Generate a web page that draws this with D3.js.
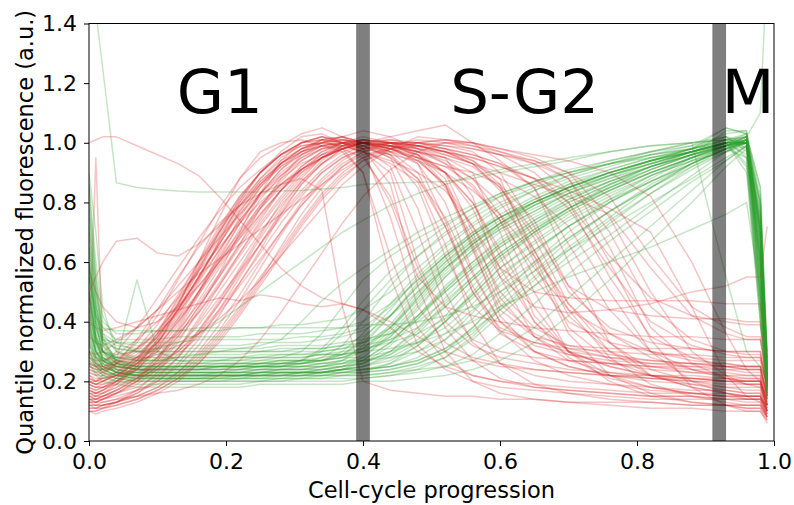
<!DOCTYPE html>
<html>
<head>
<meta charset="utf-8">
<script src="https://cdn.jsdelivr.net/npm/d3@7"></script>
<style>
  body { margin: 0; background: #fff; }
  svg text { font-family: "DejaVu Sans", sans-serif; }
</style>
</head>
<body>
<svg id="chart" width="794" height="505"></svg>
<script>
// Sampling positions along the cell cycle (shared by every trace)
const progression = [0, .01, .02, .04, .07, .10, .13, .16, .19, .22, .25, .28, .31, .34, .37,
                     .40, .44, .48, .52, .56, .60, .65, .70, .76, .82, .88, .93, .96, .98, .99];

// Red reporter (G1 marker), one row per cell
const redTraces = [
  [.18,.17,.18,.2,.24,.32,.45,.6,.75,.88,.97,1.0,1.01,.99,.97,.9,.62,.38,.27,.22,.2,.18,.17,.16,.15,.15,.14,.14,.14,.12],
  [.14,.14,.15,.17,.2,.25,.33,.44,.56,.7,.83,.94,1.0,1.02,1.0,.99,.95,.78,.5,.33,.26,.22,.2,.19,.18,.17,.17,.16,.16,.1],
  [.22,.2,.21,.22,.24,.28,.35,.45,.55,.66,.78,.88,.96,1.0,1.01,1.0,.98,.96,.88,.65,.42,.3,.25,.22,.21,.2,.2,.19,.19,.12],
  [.12,.12,.13,.14,.17,.2,.25,.32,.42,.53,.64,.76,.86,.93,.98,1.0,.99,.97,.95,.9,.7,.42,.3,.25,.22,.21,.2,.2,.2,.14],
  [.27,.25,.24,.24,.27,.33,.42,.54,.67,.8,.9,.97,1.02,1.03,1.0,.98,.92,.7,.45,.34,.3,.28,.27,.26,.25,.25,.24,.24,.24,.15],
  [.16,.15,.16,.18,.22,.28,.36,.47,.58,.68,.78,.86,.92,.97,1.0,1.01,1.0,.98,.97,.94,.88,.62,.38,.27,.22,.19,.17,.16,.16,.1],
  [.2,.19,.2,.23,.28,.36,.46,.57,.68,.79,.88,.95,.99,1.0,1.02,1.0,.97,.93,.8,.57,.4,.32,.29,.27,.26,.26,.25,.25,.25,.2],
  [.1,.1,.11,.12,.14,.17,.21,.27,.35,.44,.54,.65,.76,.85,.92,.97,1.0,1.0,.98,.96,.93,.85,.6,.33,.22,.18,.16,.15,.15,.09],
  [.24,.23,.24,.27,.33,.42,.54,.66,.78,.88,.95,.99,1.03,1.05,1.02,.98,.75,.45,.33,.28,.26,.24,.23,.22,.22,.21,.21,.2,.2,.14],
  [.3,.28,.27,.28,.31,.36,.43,.52,.61,.7,.79,.86,.91,.95,.98,1.0,1.0,.99,.97,.95,.92,.88,.8,.55,.35,.28,.25,.24,.24,.16],
  [.15,.14,.14,.15,.17,.19,.23,.29,.37,.47,.58,.69,.79,.87,.93,.97,.99,.98,.95,.82,.55,.35,.27,.23,.21,.2,.19,.19,.19,.11],
  [.19,.18,.19,.21,.25,.31,.4,.5,.6,.71,.81,.89,.95,.99,1.01,1.0,.99,.93,.74,.5,.38,.33,.31,.3,.29,.29,.28,.28,.28,.2],
  [.13,.12,.12,.13,.15,.18,.22,.28,.36,.45,.55,.64,.74,.83,.9,.95,.99,1.01,1.0,.98,.96,.93,.88,.65,.38,.26,.21,.19,.19,.12],
  [.26,.25,.26,.3,.38,.48,.58,.68,.77,.85,.91,.96,.99,1.0,.99,.97,.9,.6,.4,.32,.28,.26,.24,.23,.22,.22,.21,.21,.21,.13],
  [.22,.21,.21,.22,.23,.26,.3,.36,.44,.53,.63,.73,.82,.9,.95,.98,1.0,1.0,.99,.97,.9,.72,.5,.38,.33,.31,.3,.3,.3,.18],
  [.35,.33,.32,.34,.38,.44,.52,.6,.68,.76,.83,.89,.94,.98,1.0,1.01,1.0,.98,.96,.93,.9,.86,.82,.76,.58,.42,.36,.34,.34,.2],
  [.17,.16,.17,.19,.24,.31,.41,.53,.64,.74,.82,.88,.93,.96,.98,.99,.96,.85,.62,.45,.37,.33,.3,.28,.27,.26,.25,.25,.25,.15],
  [.11,.11,.12,.13,.16,.2,.26,.34,.44,.55,.66,.77,.86,.93,.98,1.0,1.01,.99,.96,.93,.88,.82,.72,.5,.3,.2,.16,.14,.14,.08],
  [.28,.27,.27,.29,.34,.4,.48,.57,.65,.73,.8,.86,.91,.95,.98,1.0,.99,.97,.95,.92,.85,.7,.52,.44,.42,.41,.41,.4,.4,.25],
  [.2,.19,.19,.2,.22,.25,.3,.37,.46,.56,.66,.76,.84,.91,.96,.99,1.0,1.0,.98,.94,.86,.64,.42,.3,.25,.23,.22,.22,.22,.14],
  [.15,.15,.16,.19,.25,.34,.46,.59,.71,.82,.9,.96,1.0,1.01,.98,.9,.55,.32,.24,.2,.18,.17,.16,.15,.14,.14,.14,.13,.13,.09],
  [.24,.23,.23,.25,.28,.33,.41,.5,.6,.69,.78,.85,.91,.95,.98,1.0,1.01,1.0,.99,.98,.96,.94,.9,.82,.62,.45,.38,.35,.35,.22],
  [.13,.13,.14,.16,.2,.25,.31,.39,.48,.57,.66,.75,.83,.9,.95,.98,.99,.97,.9,.7,.48,.35,.29,.26,.24,.23,.23,.22,.22,.12],
  [.19,.18,.18,.19,.21,.24,.29,.35,.43,.52,.61,.7,.79,.86,.92,.96,.98,.99,.98,.96,.93,.88,.78,.58,.4,.32,.29,.28,.28,.18],
  [.3,.29,.3,.33,.38,.44,.5,.56,.61,.66,.71,.76,.81,.86,.91,.95,.98,1.0,1.01,.99,.96,.9,.8,.62,.48,.42,.4,.39,.39,.24],
  [.1,.1,.11,.13,.17,.23,.31,.41,.52,.63,.74,.84,.91,.96,.99,1.0,1.0,.99,.97,.95,.92,.88,.84,.78,.7,.45,.22,.15,.13,.08],
  [.23,.22,.22,.23,.26,.3,.37,.46,.56,.66,.76,.84,.91,.96,1.0,1.02,1.0,.95,.85,.68,.5,.38,.32,.29,.27,.26,.26,.25,.25,.16],
  [.16,.16,.17,.2,.26,.34,.44,.55,.66,.77,.86,.93,.98,1.01,1.02,1.0,.98,.95,.92,.9,.86,.74,.52,.36,.28,.24,.22,.21,.21,.12],
  [1.0,1.01,1.02,1.02,.99,.96,.93,.89,.82,.74,.66,.58,.52,.48,.46,.44,.4,.35,.3,.27,.25,.24,.23,.22,.21,.21,.2,.2,.2,.13],
  [.28,.95,.3,.26,.28,.31,.36,.43,.52,.62,.72,.81,.89,.95,.99,1.0,.99,.96,.9,.78,.58,.4,.3,.25,.22,.21,.2,.2,.2,.12],
  [.5,.55,.6,.67,.68,.63,.62,.66,.72,.79,.86,.92,.96,.99,1.0,1.0,.98,.94,.86,.66,.46,.36,.31,.28,.26,.25,.25,.24,.24,.15],
  [.4,.38,.37,.38,.4,.42,.44,.46,.48,.47,.49,.48,.46,.45,.46,.44,.38,.3,.25,.22,.2,.19,.18,.17,.16,.16,.15,.15,.15,.1],
  [.2,.2,.22,.26,.34,.44,.55,.65,.73,.79,.83,.86,.88,.84,.45,.2,.17,.16,.15,.15,.14,.14,.13,.13,.13,.12,.12,.12,.12,.08],
  [.14,.13,.13,.14,.15,.16,.17,.19,.22,.27,.34,.43,.53,.63,.73,.82,.91,.97,1.0,1.0,.98,.95,.9,.75,.5,.3,.22,.19,.18,.1],
  [.25,.24,.24,.25,.27,.29,.32,.36,.41,.47,.54,.62,.7,.78,.86,.92,.98,1.02,1.01,1.0,.97,.94,.88,.7,.45,.34,.3,.29,.29,.18],
  [.18,.17,.18,.21,.27,.36,.48,.6,.72,.82,.9,.96,1.0,1.02,1.0,.96,.8,.55,.45,.42,.4,.38,.37,.36,.35,.35,.34,.34,.34,.2],
  [.12,.12,.12,.13,.15,.18,.23,.3,.39,.49,.6,.7,.8,.88,.94,.98,1.0,.99,.97,.93,.84,.6,.36,.22,.16,.13,.12,.11,.11,.07],
  [.21,.2,.21,.23,.28,.35,.44,.55,.66,.76,.85,.92,.97,1.0,1.02,1.04,1.02,.98,.93,.85,.74,.58,.44,.36,.3,.27,.26,.25,.25,.15],
  [.17,.16,.16,.18,.21,.26,.34,.43,.53,.63,.73,.82,.9,.95,.98,1.0,1.02,1.04,1.06,1.0,.94,.85,.66,.44,.3,.24,.21,.2,.2,.12],
  [.14,.14,.15,.17,.21,.27,.35,.45,.55,.65,.75,.84,.92,.97,1.0,1.01,.99,.96,.9,.8,.64,.45,.3,.22,.18,.16,.15,.14,.14,.1],
  [.57,.5,.45,.4,.38,.4,.45,.52,.6,.68,.76,.84,.9,.95,.98,1.0,.99,.97,.94,.88,.76,.55,.4,.33,.3,.28,.27,.27,.27,.17],
  [.2,.19,.2,.22,.26,.32,.4,.49,.59,.69,.79,.87,.94,.98,1.0,1.0,.98,.94,.86,.72,.55,.45,.43,.44,.46,.5,.52,.55,.55,.72],
  [.11,.11,.11,.12,.14,.17,.21,.26,.33,.42,.52,.62,.72,.81,.88,.94,.98,1.0,1.01,1.0,.98,.96,.94,.9,.82,.6,.36,.24,.2,.1],
  [.26,.25,.25,.27,.31,.37,.45,.54,.64,.74,.83,.9,.95,.98,.99,1.0,.97,.9,.72,.5,.36,.3,.27,.26,.25,.24,.24,.23,.23,.14],
  [.1,.09,.1,.11,.13,.16,.2,.26,.34,.43,.53,.63,.73,.82,.89,.94,.97,.99,1.0,.99,.97,.93,.84,.6,.34,.18,.12,.1,.1,.06],
  [.16,.15,.15,.16,.18,.22,.28,.36,.46,.57,.68,.78,.87,.94,.99,1.01,1.0,.96,.86,.64,.44,.35,.32,.31,.31,.31,.3,.3,.3,.19],
  [.23,.22,.23,.26,.31,.39,.49,.6,.7,.8,.88,.94,.98,1.0,.99,.97,.94,.9,.84,.72,.58,.5,.48,.47,.47,.47,.46,.46,.46,.28],
  [.13,.13,.14,.16,.2,.27,.37,.49,.61,.73,.83,.91,.96,.99,1.0,.98,.86,.52,.3,.2,.16,.14,.13,.12,.11,.11,.1,.1,.1,.07],
  [.19,.18,.18,.2,.24,.3,.39,.5,.62,.73,.83,.91,.97,1.01,1.0,.97,.93,.87,.66,.4,.26,.19,.16,.14,.13,.12,.12,.11,.11,.08],
  [.15,.14,.15,.17,.21,.28,.38,.5,.63,.75,.85,.93,.98,1.0,1.01,1.0,.98,.95,.92,.86,.74,.5,.3,.2,.15,.13,.12,.12,.12,.09],
  [.25,.24,.24,.26,.3,.37,.47,.58,.69,.79,.87,.93,.97,.99,1.0,.99,.97,.95,.9,.8,.62,.4,.28,.21,.18,.16,.15,.15,.15,.1],
  [.12,.11,.12,.13,.16,.21,.28,.37,.47,.58,.69,.8,.88,.95,.99,1.01,1.0,.97,.93,.88,.8,.64,.44,.28,.19,.15,.13,.12,.12,.08],
  [.21,.2,.2,.22,.26,.33,.43,.55,.67,.78,.87,.93,.97,.99,.98,.95,.82,.58,.38,.27,.21,.18,.17,.16,.15,.15,.14,.14,.14,.09],
  [.17,.16,.17,.2,.25,.33,.44,.57,.7,.81,.9,.96,1.0,1.01,1.0,.98,.96,.94,.9,.84,.76,.62,.46,.33,.24,.2,.18,.17,.17,.11],
  [.28,.26,.25,.26,.29,.35,.44,.55,.66,.77,.86,.93,.98,1.01,1.02,1.0,.96,.88,.72,.52,.37,.27,.22,.19,.17,.16,.16,.15,.15,.1],
  [.14,.13,.14,.16,.19,.24,.31,.4,.5,.6,.7,.79,.87,.93,.97,.99,1.0,.99,.97,.93,.85,.68,.46,.3,.22,.18,.16,.15,.15,.11],
  [.2,.19,.2,.22,.27,.35,.46,.58,.7,.81,.9,.96,1.0,1.02,1.01,.99,.95,.88,.75,.56,.4,.3,.25,.22,.2,.19,.18,.18,.18,.12]
];

// Green reporter (S-G2-M marker), one row per cell
const greenTraces = [
  [.6,.4,.3,.24,.22,.22,.22,.22,.23,.23,.23,.24,.24,.25,.27,.32,.42,.52,.6,.67,.73,.8,.85,.9,.94,.97,1.0,1.01,.6,.2],
  [.45,.32,.27,.24,.23,.23,.23,.23,.23,.24,.24,.24,.25,.25,.25,.26,.3,.38,.48,.57,.65,.73,.8,.86,.92,.97,1.0,1.0,.75,.18],
  [.85,.55,.35,.26,.24,.24,.25,.25,.25,.25,.26,.26,.27,.3,.36,.44,.54,.62,.69,.75,.8,.85,.89,.93,.96,.98,1.01,.95,.45,.15],
  [.35,.28,.25,.23,.22,.21,.21,.21,.21,.21,.22,.22,.22,.22,.23,.23,.24,.26,.3,.38,.48,.6,.7,.8,.88,.95,.99,1.0,.8,.22],
  [.7,.5,.38,.34,.34,.34,.35,.35,.35,.35,.36,.36,.36,.37,.38,.4,.46,.54,.62,.69,.75,.81,.86,.91,.95,.98,1.01,1.03,.7,.25],
  [.5,.35,.28,.25,.24,.24,.24,.24,.25,.25,.25,.26,.26,.28,.32,.4,.52,.62,.7,.76,.82,.87,.91,.94,.97,.99,1.02,1.0,.55,.2],
  [.3,.26,.24,.22,.21,.21,.21,.21,.21,.22,.22,.22,.22,.23,.23,.24,.26,.3,.36,.44,.52,.6,.68,.77,.85,.93,.98,1.0,.65,.16],
  [.9,.7,.45,.3,.27,.27,.27,.27,.27,.27,.28,.28,.28,.29,.29,.31,.38,.48,.58,.66,.73,.79,.84,.89,.94,.98,1.05,1.03,.85,.28],
  [.55,.38,.3,.27,.26,.26,.26,.26,.27,.27,.27,.28,.3,.36,.45,.54,.62,.68,.73,.78,.82,.86,.9,.94,.97,1.0,1.02,.97,.6,.2],
  [.4,.3,.26,.23,.22,.22,.22,.22,.22,.22,.22,.23,.23,.23,.24,.25,.27,.32,.4,.5,.6,.7,.78,.86,.92,.97,1.0,1.0,.5,.17],
  [.65,.45,.36,.33,.32,.32,.32,.32,.32,.32,.33,.33,.33,.34,.35,.37,.42,.5,.58,.65,.71,.77,.83,.89,.93,.97,1.0,1.0,.72,.24],
  [.28,.25,.23,.21,.2,.2,.2,.2,.2,.2,.2,.21,.21,.21,.22,.22,.23,.25,.28,.34,.42,.52,.62,.73,.83,.92,.98,1.01,.68,.19],
  [.75,.5,.34,.27,.25,.25,.25,.25,.26,.26,.26,.27,.27,.27,.28,.3,.35,.44,.55,.64,.72,.79,.85,.9,.94,.97,.99,1.01,.58,.21],
  [.38,.3,.27,.25,.24,.24,.24,.24,.24,.24,.25,.25,.27,.31,.38,.47,.57,.65,.72,.78,.83,.87,.9,.93,.95,.97,1.0,.9,.4,.14],
  [.58,.42,.35,.32,.31,.31,.31,.31,.31,.31,.31,.32,.32,.32,.33,.34,.36,.4,.47,.55,.63,.71,.78,.85,.91,.96,1.0,1.02,.78,.26],
  [.48,.34,.27,.23,.22,.22,.22,.22,.22,.22,.23,.23,.23,.24,.25,.27,.33,.42,.52,.6,.67,.74,.8,.86,.91,.96,.99,1.0,.62,.2],
  [1.63,1.44,1.25,.866,.85,.843,.838,.835,.835,.835,.835,.838,.84,.845,.85,.86,.865,.868,.87,.88,.9,.92,.94,.97,.99,1.0,1.01,1.0,.7,.3],
  [.5,.35,.3,.28,.28,.28,.28,.29,.3,.31,.32,.34,.4,.47,.53,.58,.64,.7,.75,.79,.83,.87,.9,.93,.96,.98,1.0,1.0,.55,.2],
  [.42,.33,.3,.29,.3,.31,.33,.36,.4,.45,.5,.55,.6,.65,.7,.74,.79,.83,.86,.89,.91,.93,.95,.97,.99,1.0,1.01,1.0,.5,.18],
  [.6,.4,.3,.27,.54,.3,.27,.26,.26,.26,.27,.27,.27,.28,.29,.3,.34,.41,.5,.58,.65,.72,.78,.84,.9,.95,.99,1.0,.66,.22],
  [.33,.27,.24,.22,.21,.21,.21,.21,.21,.21,.21,.21,.22,.22,.22,.22,.23,.24,.25,.27,.31,.38,.48,.6,.72,.84,.94,.99,.75,.22],
  [.26,.22,.2,.19,.18,.18,.18,.18,.18,.18,.19,.19,.19,.19,.19,.2,.2,.21,.22,.24,.27,.33,.42,.54,.67,.8,.92,.98,.55,.16],
  [.8,.55,.4,.36,.36,.37,.37,.38,.38,.38,.38,.39,.39,.4,.41,.44,.5,.58,.66,.73,.79,.84,.88,.92,.96,.99,1.05,1.03,.82,.3],
  [.5,.36,.29,.26,.25,.25,.25,.25,.25,.26,.26,.26,.27,.27,.29,.34,.44,.55,.63,.7,.75,.8,.85,.89,.93,.97,1.0,.93,.45,.17],
  [.62,.43,.32,.27,.26,.26,.26,.26,.26,.26,.26,.27,.27,.27,.28,.28,.3,.33,.38,.46,.55,.64,.72,.8,.87,.94,.99,1.01,.7,.23],
  [.37,.3,.27,.25,.24,.24,.24,.24,.25,.25,.25,.25,.25,.26,.26,.27,.29,.34,.42,.52,.61,.69,.76,.83,.89,.94,.97,.99,.6,.19],
  [.45,.33,.28,.25,.24,.24,.24,.24,.24,.25,.25,.25,.26,.27,.3,.36,.46,.56,.65,.72,.78,.84,.89,.93,.97,1.0,.55,.3,.25,.2],
  [.29,.25,.23,.22,.22,.22,.22,.22,.22,.22,.23,.23,.23,.23,.24,.24,.25,.27,.31,.38,.47,.57,.67,.77,.86,.93,.98,1.0,.72,.18],
  [.55,.42,.38,.37,.37,.37,.37,.37,.37,.38,.38,.38,.38,.38,.38,.39,.39,.4,.42,.45,.5,.57,.64,.72,.8,.88,.95,.99,.66,.27],
  [.72,.48,.33,.28,.27,.27,.28,.28,.28,.28,.28,.29,.29,.3,.31,.33,.38,.47,.57,.66,.73,.8,.85,.9,.94,.97,1.0,.96,.5,.19],
  [.4,.3,.25,.23,.23,.23,.23,.23,.23,.23,.24,.24,.24,.25,.26,.29,.37,.48,.58,.66,.72,.78,.83,.88,.92,.96,.99,1.0,.72,.21],
  [.3,.25,.22,.2,.2,.2,.2,.2,.2,.2,.2,.2,.21,.21,.21,.21,.22,.23,.25,.29,.36,.46,.56,.67,.77,.87,.94,.99,.62,.15],
  [.52,.38,.33,.31,.3,.3,.3,.3,.3,.3,.3,.3,.31,.31,.32,.35,.42,.52,.61,.69,.75,.81,.86,.9,.94,.97,1.0,1.02,.85,.25],
  [.65,.45,.32,.26,.24,.23,.23,.23,.23,.23,.24,.24,.24,.24,.25,.26,.3,.37,.46,.55,.63,.71,.78,.85,.91,.96,1.04,1.04,.68,.22],
  [.34,.28,.26,.24,.23,.23,.23,.23,.23,.23,.23,.23,.23,.24,.24,.24,.25,.27,.31,.37,.44,.52,.6,.69,.79,.89,.97,1.01,.74,.2],
  [.48,.35,.3,.28,.27,.27,.27,.27,.27,.28,.28,.28,.28,.29,.29,.3,.31,.33,.36,.4,.45,.5,.55,.6,.65,.71,.76,.8,.5,.2],
  [.86,.6,.42,.33,.3,.29,.29,.29,.29,.29,.3,.3,.3,.3,.31,.32,.34,.38,.45,.54,.62,.7,.77,.84,.9,.95,.99,1.01,.78,.24],
  [.27,.24,.22,.21,.21,.21,.21,.21,.22,.22,.22,.22,.22,.23,.24,.27,.33,.42,.51,.59,.66,.73,.79,.85,.9,.95,.99,1.02,.58,.17],
  [.44,.33,.28,.26,.25,.25,.25,.25,.25,.25,.25,.26,.26,.26,.27,.27,.28,.3,.34,.41,.5,.59,.68,.77,.85,.92,.97,1.0,.63,.19],
  [.56,.4,.34,.33,.33,.33,.33,.34,.34,.34,.34,.34,.35,.35,.36,.38,.45,.54,.62,.69,.75,.8,.85,.9,.94,.98,1.01,1.02,.8,.28],
  [.36,.28,.25,.23,.22,.22,.22,.22,.22,.22,.23,.23,.23,.23,.24,.25,.28,.33,.4,.48,.56,.64,.72,.8,.87,.93,.98,1.0,.45,.12],
  [.4,.3,.27,.25,.24,.24,.24,.24,.24,.24,.25,.25,.25,.25,.26,.28,.35,.45,.55,.63,.7,.76,.82,.87,.92,.96,.99,1.02,1.1,1.6],
  [.78,.52,.36,.3,.28,.28,.28,.28,.28,.28,.29,.29,.29,.29,.3,.31,.33,.36,.41,.49,.58,.67,.75,.82,.89,.94,.98,1.0,.52,.18],
  [.32,.26,.23,.21,.2,.2,.2,.2,.2,.21,.21,.21,.21,.22,.22,.23,.26,.32,.4,.49,.58,.66,.74,.81,.87,.93,.98,1.01,.7,.2],
  [.5,.34,.27,.24,.23,.23,.23,.23,.23,.23,.23,.24,.24,.24,.25,.28,.36,.46,.56,.64,.71,.77,.83,.88,.93,.97,1.01,1.02,.66,.21],
  [.42,.31,.26,.23,.22,.22,.22,.22,.22,.22,.22,.22,.23,.23,.23,.24,.25,.28,.34,.43,.53,.63,.72,.81,.89,.95,1.0,1.0,.55,.17],
  [.68,.46,.33,.27,.25,.25,.25,.25,.25,.25,.25,.25,.26,.27,.29,.33,.42,.53,.62,.7,.76,.82,.87,.91,.95,.98,1.02,.98,.48,.2],
  [.3,.26,.24,.22,.21,.21,.21,.21,.21,.21,.21,.22,.22,.22,.23,.23,.24,.26,.3,.36,.45,.55,.65,.75,.85,.93,.99,1.02,.8,.23],
  [.55,.38,.3,.26,.25,.25,.25,.25,.25,.25,.26,.26,.26,.27,.28,.31,.39,.5,.6,.68,.74,.8,.85,.9,.94,.98,1.03,1.04,.72,.24],
  [.38,.29,.25,.23,.22,.22,.22,.22,.22,.22,.22,.22,.23,.23,.24,.25,.29,.36,.45,.54,.62,.7,.77,.84,.9,.95,.98,.95,.42,.16],
  [.6,.42,.34,.31,.3,.3,.3,.3,.3,.3,.3,.31,.31,.31,.32,.33,.36,.42,.5,.58,.66,.74,.81,.87,.92,.96,.99,1.01,.76,.26],
  [.33,.27,.24,.22,.22,.22,.22,.22,.22,.22,.22,.23,.23,.23,.24,.26,.32,.41,.51,.6,.68,.75,.81,.87,.92,.96,1.0,1.03,.62,.19],
  [.47,.34,.28,.25,.24,.24,.24,.24,.24,.24,.24,.25,.25,.26,.27,.3,.38,.49,.59,.67,.73,.79,.84,.89,.93,.97,1.0,.92,.4,.15],
  [.26,.23,.21,.2,.19,.19,.19,.19,.19,.19,.2,.2,.2,.2,.2,.21,.22,.24,.28,.35,.44,.54,.64,.74,.83,.91,.97,1.0,.7,.2]
];

// Phase transitions (G1/S and G2/M) and phase names
const phaseBoundaries = [0.40, 0.92];
const phaseNames = ["G1", "S-G2", "M"];
const xTicks = [0, 0.2, 0.4, 0.6, 0.8, 1.0];
const yTicks = [0, 0.2, 0.4, 0.6, 0.8, 1.0, 1.2, 1.4];

// ---- layout ----
const W = 794, H = 505;
const margin = { top: 23.5, right: 20, bottom: 64, left: 89 };
const svg = d3.select("#chart");

const x = d3.scaleLinear().domain([0, 1]).range([margin.left, W - margin.right]);
const y = d3.scaleLinear().domain([0, 1.4]).range([H - margin.bottom, margin.top]);

svg.append("defs").append("clipPath").attr("id", "plot-clip")
  .append("rect")
  .attr("x", x(0)).attr("y", y(1.4))
  .attr("width", x(1) - x(0)).attr("height", y(0) - y(1.4));

// ---- traces: each cell's red then green curve ----
const line = d3.line()
  .x((d, i) => x(progression[i]))
  .y(d => y(d));

const traces = svg.append("g").attr("clip-path", "url(#plot-clip)");
const nCells = Math.max(redTraces.length, greenTraces.length);
for (let i = 0; i < nCells; i++) {
  [[redTraces[i], "#d62728"], [greenTraces[i], "#2ca02c"]].forEach(([ys, color]) => {
    if (!ys) return;
    traces.append("path")
      .attr("d", line(ys))
      .attr("fill", "none")
      .attr("stroke", color)
      .attr("stroke-opacity", 0.27)
      .attr("stroke-width", 1.5)
      .attr("stroke-linejoin", "round");
  });
}

// ---- phase transition bars ----
const barHalf = 0.01;
svg.append("g").selectAll("rect")
  .data(phaseBoundaries)
  .join("rect")
  .attr("x", d => x(d - barHalf))
  .attr("width", d => x(d + barHalf) - x(d - barHalf))
  .attr("y", y(1.4))
  .attr("height", y(0) - y(1.4))
  .attr("fill", "#000")
  .attr("fill-opacity", 0.5);

// ---- phase names ----
const phaseLabelX = [0.191, 0.636, 0.962];
svg.append("g").selectAll("text")
  .data(phaseNames)
  .join("text")
  .attr("x", (d, i) => x(phaseLabelX[i]))
  .attr("y", y(1.1))
  .attr("text-anchor", "middle")
  .attr("font-size", 61)
  .attr("fill", "#000")
  .text(d => d);

// ---- axes ----
const fmt = d3.format(".1f");
const gx = svg.append("g")
  .attr("transform", `translate(0,${y(0)})`)
  .call(d3.axisBottom(x).tickValues(xTicks).tickFormat(fmt).tickSize(5).tickPadding(7));
const gy = svg.append("g")
  .attr("transform", `translate(${x(0)},0)`)
  .call(d3.axisLeft(y).tickValues(yTicks).tickFormat(fmt).tickSize(5).tickPadding(7));

[gx, gy].forEach(g => {
  g.select(".domain").remove();
  g.selectAll(".tick line").attr("stroke", "#000").attr("stroke-width", 1);
  g.selectAll(".tick text")
    .attr("font-size", 22)
    .attr("font-family", "DejaVu Sans, sans-serif")
    .attr("fill", "#000");
});

// frame
svg.append("rect")
  .attr("x", x(0)).attr("y", y(1.4))
  .attr("width", x(1) - x(0)).attr("height", y(0) - y(1.4))
  .attr("fill", "none")
  .attr("stroke", "#000")
  .attr("stroke-width", 1);

// axis titles
svg.append("text")
  .attr("x", (x(0) + x(1)) / 2)
  .attr("y", 498)
  .attr("text-anchor", "middle")
  .attr("font-size", 22.5)
  .attr("fill", "#000")
  .text("Cell-cycle progression");

svg.append("text")
  .attr("transform", `translate(32.5,${(y(0) + y(1.4)) / 2}) rotate(-90)`)
  .attr("text-anchor", "middle")
  .attr("font-size", 22.5)
  .attr("fill", "#000")
  .text("Quantile normalized fluorescence (a.u.)");
</script>
</body>
</html>
